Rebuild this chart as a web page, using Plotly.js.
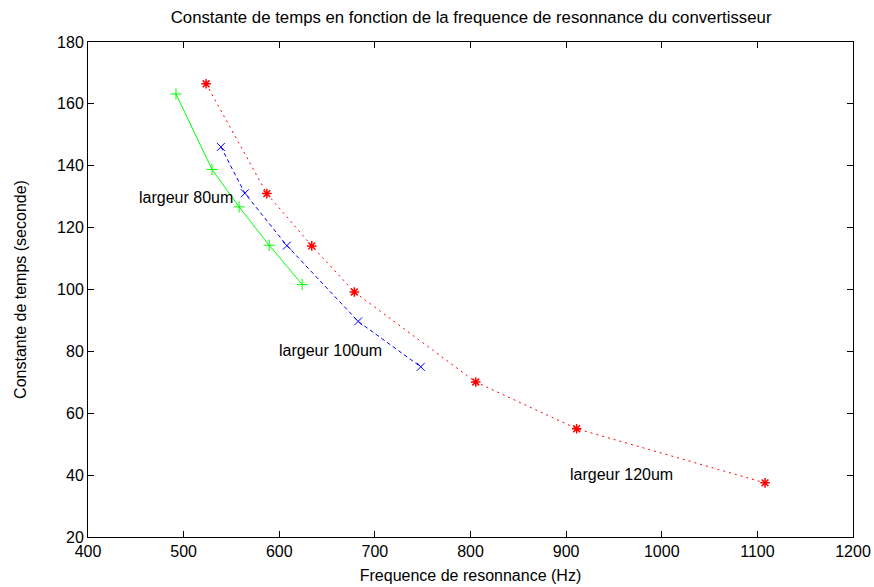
<!DOCTYPE html>
<html><head><meta charset="utf-8">
<script src="https://cdn.plot.ly/plotly-3.0.1.min.js"></script>
<style>body{margin:0;background:#fff}#c{width:874px;height:587px}</style>
</head><body><div id="c"></div>
<script>
const x80 = [492, 529.7, 558, 589.5, 624];
const y80 = [163.2, 138.8, 126.7, 114.3, 101.6];
const x100 = [539, 564, 608, 682.5, 748];
const y100 = [146.1, 131.1, 114.2, 89.7, 75.0];
const x120 = [523.5, 587, 634, 678.5, 805.5, 911, 1108];
const y120 = [166.5, 131.0, 114.1, 99.2, 70.1, 55.0, 37.5];
const labelText = ["largeur 80um", "largeur 100um", "largeur 120um"];
const labelX = [502, 654, 958];
const labelY = [129.8, 80.3, 40.3];

const font = {family: "Liberation Sans, Arial, sans-serif", size: 16, color: "#000"};
const traces = [
  {x: x80, y: y80, mode: "lines+markers", line: {color: "#00ff00", width: 1, dash: "solid"},
   marker: {symbol: "cross-thin-open", size: 8, color: "#00ff00", line: {width: 1, color: "#00ff00"}}},
  {x: x100, y: y100, mode: "lines+markers", line: {color: "#0000ff", width: 1, dash: "4px,3px"},
   marker: {symbol: "x-thin-open", size: 8, color: "#0000ff", line: {width: 1, color: "#0000ff"}}},
  {x: x120, y: y120, mode: "lines+markers", line: {color: "#ff0000", width: 1, dash: "2px,4px"},
   marker: {symbol: "asterisk-open", size: 8, color: "#ff0000", line: {width: 1.5, color: "#ff0000"}}}
];
const annotations = labelText.map((t, i) => ({x: labelX[i], y: labelY[i], text: t, showarrow: false,
  xanchor: "center", yanchor: "middle", font: font}));
const axisCommon = {showgrid: false, zeroline: false, showline: true, linecolor: "#000", linewidth: 1,
  mirror: "ticks", ticks: "inside", ticklen: 6, tickcolor: "#000", tickfont: font};
const layout = {
  width: 874, height: 587,
  margin: {l: 88, r: 21, t: 42, b: 50},
  paper_bgcolor: "#fff", plot_bgcolor: "#fff",
  showlegend: false,
  font: font,
  title: {text: "Constante de temps en fonction de la frequence de resonnance du convertisseur",
    font: {family: "Liberation Sans, Arial, sans-serif", size: 16.8, color: "#000"}, x: 0.539, xanchor: "center", y: 0.97, yanchor: "middle"},
  xaxis: Object.assign({}, axisCommon, {range: [400, 1200], dtick: 100, tick0: 400,
    title: {text: "Frequence de resonnance (Hz)", font: font, standoff: 10}}),
  yaxis: Object.assign({}, axisCommon, {range: [20, 180], dtick: 20, tick0: 20,
    title: {text: "Constante de temps (seconde)", font: font, standoff: 26}}),
  annotations: annotations
};
Plotly.newPlot("c", traces, layout, {staticPlot: true});
</script></body></html>
